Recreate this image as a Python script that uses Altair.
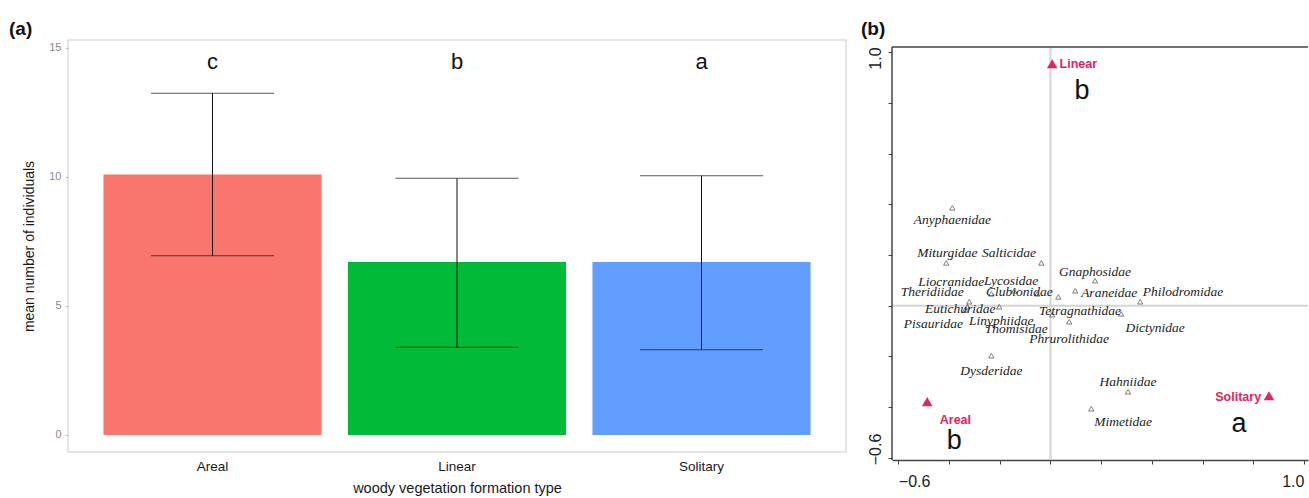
import altair as alt
import pandas as pd

# ---------- panel (a) data ----------
categories = ["Areal", "Linear", "Solitary"]
means = [10.1, 6.7, 6.7]
err_low = [6.95, 3.4, 3.3]
err_high = [13.25, 9.95, 10.05]
letters = ["c", "b", "a"]
letter_y = [14.45, 14.45, 14.45]
bar_colors = ["#F8766D", "#00BA38", "#619CFF"]

# ---------- panel (b) data ----------
families = ["Anyphaenidae", "Miturgidae", "Salticidae", "Gnaphosidae", "Liocranidae",
            "Lycosidae", "Theridiidae", "Clubionidae", "Araneidae", "Philodromidae",
            "Eutichuridae", "Linyphiidae", "Pisauridae", "Thomisidae", "Tetragnathidae",
            "Phrurolithidae", "Dictynidae", "Dysderidae", "Hahniidae", "Mimetidae"]
fam_x = [-0.387, -0.411, -0.036, 0.176, -0.233, -0.143, -0.320, -0.052, 0.098, 0.354,
         -0.202, -0.328, -0.336, 0.031, 0.007, 0.074, 0.279, -0.233, 0.306, 0.161]
fam_y = [0.386, 0.169, 0.169, 0.099, 0.047, 0.059, 0.016, 0.047, 0.059, 0.016,
         -0.004, -0.004, -0.016, 0.035, -0.035, -0.063, -0.032, -0.197, -0.339, -0.406]
lab_x = [-0.387, -0.407, -0.163, 0.176, -0.391, -0.155, -0.466, -0.123, 0.232, 0.523,
         -0.356, -0.194, -0.462, -0.135, 0.117, 0.074, 0.413, -0.233, 0.306, 0.287]
lab_y = [0.339, 0.209, 0.209, 0.134, 0.095, 0.099, 0.055, 0.055, 0.051, 0.055,
         -0.012, -0.059, -0.071, -0.091, -0.020, -0.130, -0.087, -0.256, -0.300, -0.457]

centroids = ["Areal", "Linear", "Solitary"]
cen_x = [-0.486, 0.007, 0.862]
cen_y = [-0.378, 0.954, -0.355]
cen_lab_x = [-0.375, 0.036, 0.831]
cen_lab_y = [-0.449, 0.954, -0.359]
cen_align = ["center", "left", "right"]
cen_letters = ["b", "b", "a"]
cen_letter_x = [-0.379, 0.125, 0.744]
cen_letter_y = [-0.532, 0.847, -0.465]

ticks_b = [-0.6, -0.4, -0.2, 0.0, 0.2, 0.4, 0.6, 0.8, 1.0]
x_range_b = [-0.625, 1.016]
y_range_b = [-0.608, 1.020]

SANS = "Liberation Sans"
SERIF = "Liberation Serif"
PINK = "#E3245E"

# ================= panel (a) =================
df_a = pd.DataFrame({"cat": categories, "mean": means, "lo": err_low, "hi": err_high,
                     "letter": letters, "ly": letter_y})
y_scale_a = alt.Scale(domain=[-0.66, 15.31], nice=False, zero=False)
x_scale_a = alt.Scale(domain=categories, paddingInner=0.108, paddingOuter=0.145)

base_a = alt.Chart(df_a)
bars = base_a.mark_bar().encode(
    x=alt.X("cat:N", scale=x_scale_a,
            axis=alt.Axis(title="woody vegetation formation type", labelAngle=0, ticks=False,
                          domain=False, labelFontSize=13.5, labelColor="#1a1a1a", labelFont=SANS,
                          labelPadding=7, titleFont=SANS, titleFontSize=14.5,
                          titleFontWeight="normal", titleColor="#1a1a1a", titlePadding=9)),
    y=alt.Y("mean:Q", scale=y_scale_a,
            axis=alt.Axis(title="mean number of individuals", values=[0, 5, 10, 15], grid=False,
                          domain=False, tickSize=3, tickColor="#bbbbbb", labelColor="#888888",
                          labelFontSize=11, labelFont=SANS, labelPadding=4, titleFont=SANS,
                          titleFontSize=14, titleFontWeight="normal", titleColor="#1a1a1a",
                          titlePadding=12)),
    y2=alt.datum(0),
    color=alt.Color("cat:N", scale=alt.Scale(domain=categories, range=bar_colors), legend=None),
)
err_rule = base_a.mark_rule(color="#111111", strokeWidth=1).encode(
    x=alt.X("cat:N", scale=x_scale_a), y=alt.Y("lo:Q", scale=y_scale_a), y2="hi:Q")
cap_lo = base_a.mark_tick(orient="horizontal", size=123, thickness=1, color="#111111").encode(
    x=alt.X("cat:N", scale=x_scale_a), y=alt.Y("lo:Q", scale=y_scale_a))
cap_hi = base_a.mark_tick(orient="horizontal", size=123, thickness=1, color="#111111").encode(
    x=alt.X("cat:N", scale=x_scale_a), y=alt.Y("hi:Q", scale=y_scale_a))
let_a = base_a.mark_text(font=SANS, fontSize=22, color="#111111", baseline="middle").encode(
    x=alt.X("cat:N", scale=x_scale_a), y=alt.Y("ly:Q", scale=y_scale_a), text="letter:N")
tag_a = alt.Chart(pd.DataFrame({"t": ["(a)"]})).mark_text(
    font=SANS, fontSize=19, fontWeight="bold", align="left", baseline="middle", color="#111111"
).encode(x=alt.value(-59), y=alt.value(-11), text="t:N")

panel_a = alt.layer(bars, err_rule, cap_lo, cap_hi, let_a, tag_a).properties(
    width=778, height=412, view=alt.ViewBackground(stroke="#dddddd", strokeWidth=1.5))

# ================= panel (b) =================
df_fam = pd.DataFrame({"fam": families, "x": fam_x, "y": fam_y, "lx": lab_x, "ly": lab_y})
df_cen = pd.DataFrame({"name": centroids, "x": cen_x, "y": cen_y, "lx": cen_lab_x,
                       "ly": cen_lab_y, "al": cen_align, "let": cen_letters,
                       "tx": cen_letter_x, "ty": cen_letter_y})
# y scale leaves a small strip above the frame so both panels share a top origin
xs_b = alt.Scale(domain=[x_range_b[0], x_range_b[1]], nice=False, zero=False)
ys_b = alt.Scale(domain=[y_range_b[0], 1.0476], nice=False, zero=False)
label_expr = "(datum.value == 1 || datum.value == -0.6) ? format(datum.value, '.1f') : ''"

zero_df = pd.DataFrame({"z": [0.0], "y0": [y_range_b[0]], "y1": [y_range_b[1]]})
vline = alt.Chart(zero_df).mark_rule(color="#d4d4d4", strokeWidth=2).encode(
    x=alt.X("z:Q", scale=xs_b, title=None), y=alt.Y("y0:Q", scale=ys_b, title=None),
    y2="y1:Q")
hline = alt.Chart(zero_df).mark_rule(color="#d4d4d4", strokeWidth=2).encode(
    y=alt.Y("z:Q", scale=ys_b, title=None))

frame_df = pd.DataFrame({"x0": [x_range_b[0]], "x1": [x_range_b[1]],
                         "y0": [y_range_b[0]], "y1": [y_range_b[1]]})
frame_top = alt.Chart(frame_df).mark_rule(color="#444444", strokeWidth=1.5).encode(
    x=alt.X("x0:Q", scale=xs_b, title=None), x2="x1:Q",
    y=alt.Y("y1:Q", scale=ys_b, title=None))
frame_left = alt.Chart(frame_df).mark_rule(color="#444444", strokeWidth=1.5).encode(
    x=alt.X("x0:Q", scale=xs_b, title=None),
    y=alt.Y("y0:Q", scale=ys_b, title=None), y2="y1:Q")

fam_pts = alt.Chart(df_fam).mark_point(shape="triangle-up", filled=False, size=28,
                                       color="#222222", strokeWidth=0.8).encode(
    x=alt.X("x:Q", scale=xs_b,
            axis=alt.Axis(title=None, values=ticks_b, labelExpr=label_expr, grid=False,
                          tickSize=4, tickColor="#444444", domainColor="#444444",
                          domainWidth=1.5, labelFont=SANS, labelFontSize=16,
                          labelColor="#222222", labelPadding=9, labelFlush=8)),
    y=alt.Y("y:Q", scale=ys_b,
            axis=alt.Axis(title=None, values=ticks_b, labelExpr=label_expr, grid=False,
                          domain=False, tickSize=4, tickColor="#444444",
                          labelFont=SANS, labelFontSize=16, labelColor="#222222",
                          labelAngle=270, labelAlign="center", labelBaseline="bottom",
                          labelPadding=5, labelFlush=False,
                          labelOffset=alt.condition("datum.value == 1", alt.value(6),
                                                    alt.value(-9)))),
)
fam_txt = alt.Chart(df_fam).mark_text(font=SERIF, fontStyle="italic", fontSize=13.5,
                                      color="#222222", baseline="middle").encode(
    x=alt.X("lx:Q", scale=xs_b, title=None), y=alt.Y("ly:Q", scale=ys_b, title=None),
    text="fam:N")

cen_pts = alt.Chart(df_cen).mark_point(shape="triangle-up", filled=True, size=110,
                                       color=PINK, opacity=1).encode(
    x=alt.X("x:Q", scale=xs_b, title=None), y=alt.Y("y:Q", scale=ys_b, title=None))

cen_txt_layers = []
for al in ["left", "center", "right"]:
    cen_txt_layers.append(
        alt.Chart(df_cen).transform_filter(alt.datum.al == al).mark_text(
            font=SANS, fontSize=12.5, fontWeight="bold", color=PINK, align=al,
            baseline="middle").encode(
            x=alt.X("lx:Q", scale=xs_b, title=None), y=alt.Y("ly:Q", scale=ys_b, title=None),
            text="name:N"))
cen_let = alt.Chart(df_cen).mark_text(font=SANS, fontSize=27, color="#111111",
                                      baseline="middle").encode(
    x=alt.X("tx:Q", scale=xs_b, title=None), y=alt.Y("ty:Q", scale=ys_b, title=None),
    text="let:N")
tag_b = alt.Chart(pd.DataFrame({"t": ["(b)"]})).mark_text(
    font=SANS, fontSize=19, fontWeight="bold", align="left", baseline="middle", color="#111111"
).encode(x=alt.value(-31), y=alt.value(-11), text="t:N")

panel_b = alt.layer(vline, hline, frame_top, frame_left, fam_pts, fam_txt, cen_pts,
                    *cen_txt_layers, cen_let, tag_b).properties(
    width=416, height=420, view=alt.ViewBackground(strokeOpacity=0))

chart = alt.hconcat(panel_a, panel_b, spacing=14).properties(
    padding={"left": 8, "top": 19, "right": 0, "bottom": 0}, background="white"
).configure_view(clip=False)

chart.save("out.html", embed_options={"renderer": "svg", "actions": False})
